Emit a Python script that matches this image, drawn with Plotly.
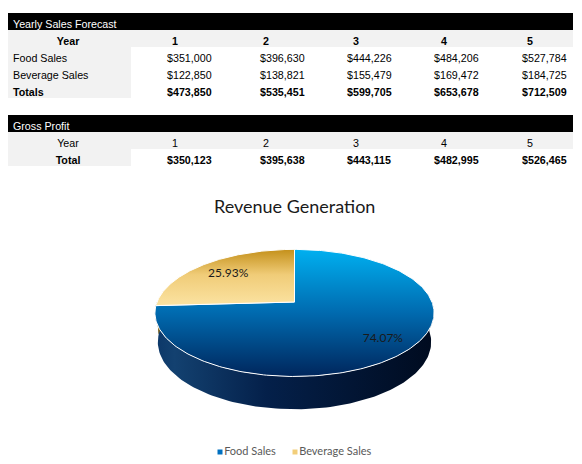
import numpy as np
import plotly.graph_objects as go

# data
years = [1, 2, 3, 4, 5]
food_sales = [351000, 396630, 444226, 484206, 527784]
beverage_sales = [122850, 138821, 155479, 169472, 184725]
totals = [f + b for f, b in zip(food_sales, beverage_sales)]
gross_profit = [350123, 395638, 443115, 482995, 526465]

pie_labels = ['Food Sales', 'Beverage Sales']
pie_values = [food_sales[0], beverage_sales[0]]

W, H = 582, 464
PAGE_OFF = 8  # the page body margin puts the plot 8px in from the window edge


def Y(py):
    # window pixel (top-down) -> axis value (bottom-up)
    return H - py


FONT = 'Liberation Sans, Arial, sans-serif'
CHART_FONT = 'Lato, Open Sans, sans-serif'
GRAY = '#f2f2f2'

fig = go.Figure()
shapes = []


def add_text(xs, ys, texts, size=10.7, color='black', pos='middle right', family=FONT):
    fig.add_trace(go.Scatter(
        x=xs, y=[Y(v) for v in ys], text=texts, mode='text',
        textposition=pos, textfont=dict(family=family, size=size, color=color),
        hoverinfo='skip', showlegend=False))


def money(v, bold=False):
    s = f"${v:,}"
    return f"<b>{s}</b>" if bold else s


# ---- tables ----
left, right, label_right = 5, 573, 131
val_x = [167, 260, 347, 434, 522]
head_x = [172, 263, 353, 441, 527]
row_h = 17
text_dy = 4  # excel text sits a little low in its row


def draw_table(top, title, rows):
    shapes.append(dict(type='rect', x0=left, x1=right, y0=Y(top), y1=Y(top + row_h),
                       fillcolor='black', line_width=0, layer='below'))
    add_text([13], [top + row_h / 2 + text_dy], [title], color='white')
    for i, (label, centered, texts, head) in enumerate(rows):
        y0 = top + row_h * (i + 1)
        shapes.append(dict(type='rect', x0=left, x1=right if head else label_right,
                           y0=Y(y0), y1=Y(y0 + row_h), fillcolor=GRAY, line_width=0,
                           layer='below'))
        yc = y0 + row_h / 2 + text_dy
        if centered:
            add_text([(left + label_right) / 2], [yc], [label], pos='middle center')
        else:
            add_text([13], [yc], [label])
        add_text(head_x if head else val_x, [yc] * len(texts), texts)


draw_table(13, 'Yearly Sales Forecast', [
    ('<b>Year</b>', True, [f'<b>{y}</b>' for y in years], True),
    ('Food Sales', False, [money(v) for v in food_sales], False),
    ('Beverage Sales', False, [money(v) for v in beverage_sales], False),
    ('<b>Totals</b>', False, [money(v, True) for v in totals], False),
])
draw_table(115, 'Gross Profit', [
    ('Year', True, [str(y) for y in years], True),
    ('<b>Total</b>', True, [money(v, True) for v in gross_profit], False),
])

# ---- 3D pie (perspective projection) ----
D, K = 5.2, 715.0
phi = np.radians(26.65)
depth = 0.2386
cx, cy = 294.5, Y(302)


def project(X, Yd, Z):
    v = Yd * np.sin(phi) + Z * np.cos(phi)
    w = D + Yd * np.cos(phi) - Z * np.sin(phi)
    return cx + K * X / w, cy + K * v / w


top_scales = [
    [[0, '#00265c'], [0.5, '#006aaf'], [1, '#00b0f0']],
    [[0, '#fbe3a2'], [0.55, '#f0cc78'], [1, '#c4901a']],
]
side_scales = [
    [[0, '#0c3768'], [0.07, '#134170'], [0.4, '#04204a'], [1, '#000b1f']],
    [[0, '#8a6612'], [1, '#a07818']],
]
label_r = [0.8, 0.72]

fracs = np.array(pie_values) / sum(pie_values)
cum = np.concatenate([[0], np.cumsum(fracs)])
angles = 90 - 360 * cum

# side walls first
for i in range(len(pie_values)):
    a0, a1 = angles[i], angles[i + 1]
    for k in (-1, 0, 1):
        lo, hi = max(a1, -180 + 360 * k), min(a0, 360 * k)
        if lo >= hi:
            continue
        th = np.radians(np.linspace(lo, hi, 120))
        xt, yt = project(np.cos(th), np.sin(th), 0)
        xb, yb = project(np.cos(th), np.sin(th), -depth)
        fig.add_trace(go.Scatter(
            x=np.concatenate([xt, xb[::-1]]), y=np.concatenate([yt, yb[::-1]]),
            fill='toself', mode='lines', line=dict(width=0),
            fillgradient=dict(type='horizontal', colorscale=side_scales[i]),
            hoverinfo='skip', showlegend=False))

# top faces
for i in range(len(pie_values)):
    th = np.radians(np.linspace(angles[i], angles[i + 1], 240))
    xa, ya = project(np.cos(th), np.sin(th), 0)
    x0, y0 = project(0, 0, 0)
    fig.add_trace(go.Scatter(
        x=np.concatenate([[x0], xa, [x0]]), y=np.concatenate([[y0], ya, [y0]]),
        fill='toself', mode='lines', line=dict(color='white', width=1),
        fillgradient=dict(type='vertical', colorscale=top_scales[i]),
        hoverinfo='skip', showlegend=False))

# percentage labels
for i in range(len(pie_values)):
    mid = np.radians((angles[i] + angles[i + 1]) / 2)
    lx, ly = project(label_r[i] * np.cos(mid), label_r[i] * np.sin(mid), 0)
    fig.add_trace(go.Scatter(
        x=[lx], y=[ly], text=[f"{fracs[i] * 100:.2f}%"], mode='text',
        textposition='middle center',
        textfont=dict(family=CHART_FONT, size=12, color='#1a1a1a'),
        hoverinfo='skip', showlegend=False))

# legend
fig.add_trace(go.Scatter(
    x=[220, 295], y=[Y(452)] * 2, text=pie_labels, mode='markers+text',
    textposition='middle right',
    marker=dict(symbol='square', size=5, color=['#0070c0', '#f2ce7a']),
    textfont=dict(family=CHART_FONT, size=11, color='#595959'),
    hoverinfo='skip', showlegend=False))

fig.add_annotation(x=294, y=Y(206), xref='x', yref='y', text='Revenue Generation',
                   showarrow=False, font=dict(family=CHART_FONT, size=18, color='#1a1a1a'))

fig.update_layout(
    width=W, height=H, margin=dict(l=0, r=0, t=0, b=0),
    paper_bgcolor='white', plot_bgcolor='white', shapes=shapes,
    xaxis=dict(range=[PAGE_OFF, W + PAGE_OFF], visible=False, fixedrange=True),
    yaxis=dict(range=[-PAGE_OFF, H - PAGE_OFF], visible=False, fixedrange=True),
    showlegend=False,
)

fig.write_html("out.html")
